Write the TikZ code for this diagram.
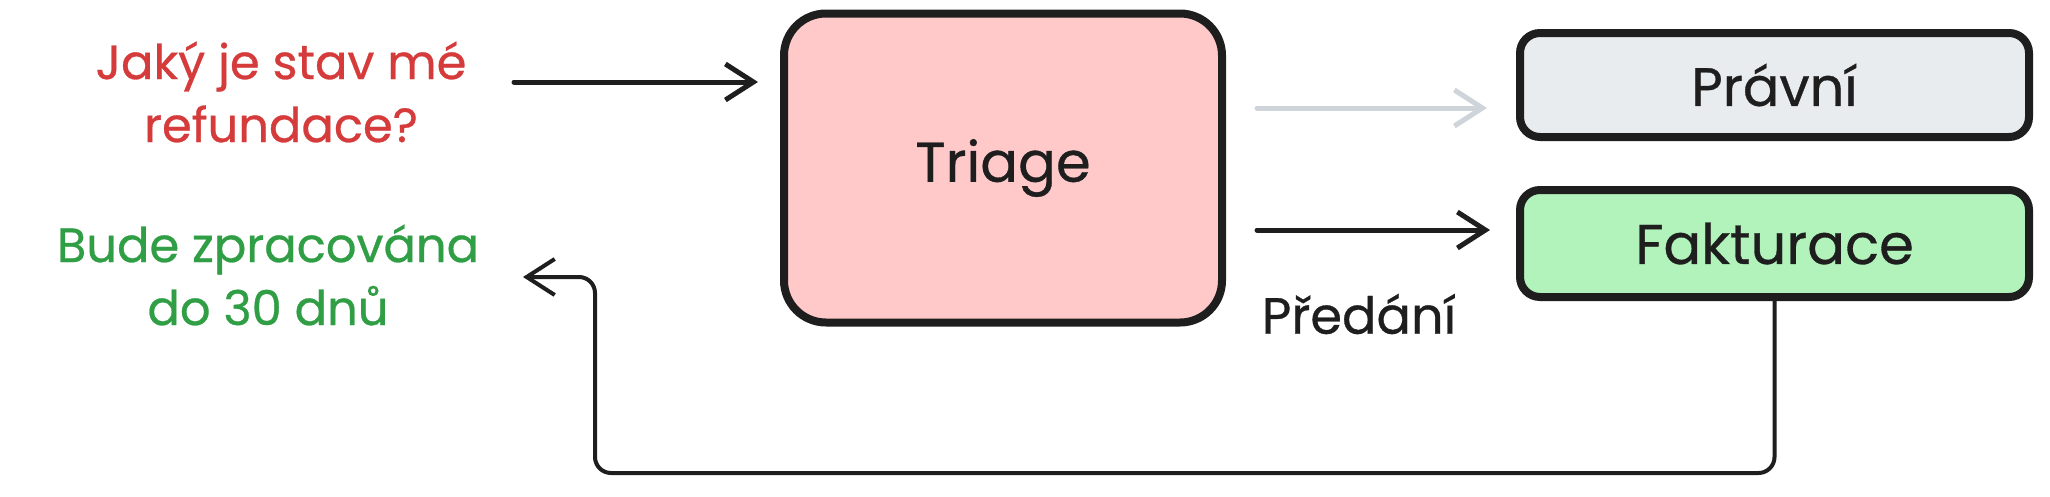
\documentclass[tikz,border=0pt]{standalone}
\usepackage{fontspec}
\setmainfont{Poppins}[FakeBold=0.6]
\usetikzlibrary{arrows.meta}
\definecolor{qred}{HTML}{D63B3B}
\definecolor{agreen}{HTML}{2F9E44}
\definecolor{trifill}{HTML}{FFC9C9}
\definecolor{legfill}{HTML}{E9ECEF}
\definecolor{billfill}{HTML}{B2F2BB}
\definecolor{faint}{HTML}{CED4DA}
\definecolor{ink}{HTML}{1E1E1E}
\tikzset{
  box/.style={draw=ink, line width=8pt, align=center, text=ink, inner sep=0pt},
  lbl/.style={align=center, inner sep=0pt, font=\fontsize{48}{63}\selectfont},
  tip/.style={-{Straight Barb[length=28pt, width=36pt, line width=5pt]}},
  arr/.style={draw=ink, line width=5pt, line cap=round, line join=round, tip},
}
\begin{document}
\begin{tikzpicture}[x=1pt,y=-1pt]
\useasboundingbox (0,0) rectangle (2050,496);
\fill[white] (0,0) rectangle (2050,496);

\node[box, fill=trifill, minimum width=438, minimum height=309, rounded corners=42,
  font=\fontsize{56}{60}\selectfont] (t) at (1003,168) {Triage};
\node[box, fill=legfill, minimum width=509, minimum height=104, rounded corners=20,
  font=\fontsize{54}{60}\selectfont] (p) at (1774.5,85) {Právní};
\node[box, fill=billfill, minimum width=509, minimum height=107, rounded corners=20,
  font=\fontsize{56}{60}\selectfont] (f) at (1774.5,243.5) {Fakturace};

\node[lbl, text=qred] (q) at (281,92) {Jaký je stav mé\\refundace?};
\node[lbl, text=agreen] (a) at (268,275) {Bude zpracována\\do 30 dnů};
\node[lbl, text=ink, font=\fontsize{51}{60}\selectfont] (h) at (1359,314) {Předání};

\coordinate (qout) at (514,82);
\coordinate (tin) at (758,82);
\coordinate (tout1) at (1257,108);
\coordinate (pin) at (1487,108);
\coordinate (tout2) at (1257,230);
\coordinate (fin) at (1490,230);
\coordinate (aend) at (523,277);

\draw[arr] (qout) -- (tin);
\draw[arr, draw=faint] (tout1) -- (pin);
\draw[arr] (tout2) -- (fin);
\draw[arr, line width=4pt, -{Straight Barb[length=28pt, width=36pt, line width=4pt]}, rounded corners=16]
  ([yshift=6]f.south) -- (f.south |- 0,473) -- (595,473) -- (595,277) -- (aend);
\end{tikzpicture}
\end{document}
